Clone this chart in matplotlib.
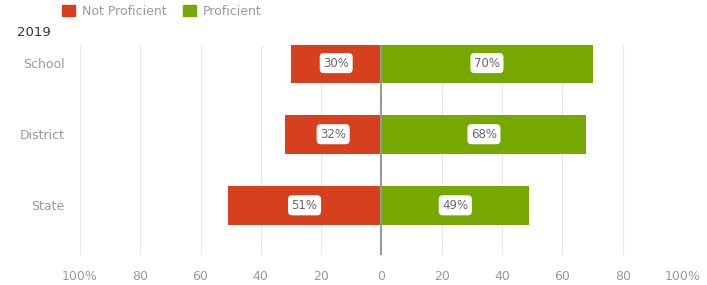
import matplotlib.pyplot as plt
from matplotlib.patches import Patch

categories = ['School', 'District', 'State']
not_proficient = [30, 32, 51]
proficient = [70, 68, 49]
ticks = [-100, -80, -60, -40, -20, 0, 20, 40, 60, 80, 100]
tick_labels = ['100%', '80', '60', '40', '20', '0', '20', '40', '60', '80', '100%']

red = '#d6401f'
green = '#76a800'

fig = plt.figure(figsize=(7.07, 2.85), dpi=100)
ax = fig.add_axes([0.113, 0.105, 0.853, 0.737])

y = list(range(len(categories)))
ax.barh(y, [-v for v in not_proficient], height=0.55, color=red, zorder=3)
ax.barh(y, proficient, height=0.55, color=green, zorder=3)

# white rounded boxes with the percentages
box = dict(boxstyle='round,pad=0.3,rounding_size=0.35', fc='white', ec='none')
for i in y:
    ax.text(-not_proficient[i] / 2, i, '{}%'.format(not_proficient[i]), ha='center', va='center',
            fontsize=8.5, color='#666677', bbox=box, zorder=4)
    ax.text(proficient[i] / 2, i, '{}%'.format(proficient[i]), ha='center', va='center',
            fontsize=8.5, color='#666677', bbox=box, zorder=4)

ax.set_xlim(-100, 100)
ax.set_ylim(2.70, -0.254)
ax.set_xticks(ticks)
ax.set_xticklabels(tick_labels)
ax.set_yticks(y)
ax.set_yticklabels(categories)
for t in ticks:
    if t == 0:
        ax.axvline(t, color='#999999', lw=1.5, zorder=5)
    else:
        ax.axvline(t, color='#e8e8e8', lw=0.8, zorder=1)
for s in ax.spines.values():
    s.set_visible(False)
ax.tick_params(axis='both', length=0, colors='#999999', labelsize=9)
ax.tick_params(axis='x', pad=11)
ax.tick_params(axis='y', pad=11)

fig.text(0.024, 0.885, '2019', fontsize=9.5, color='#333333', va='center')
handles = [Patch(color=red, label='Not Proficient'), Patch(color=green, label='Proficient')]
fig.legend(handles=handles, loc='center left', bbox_to_anchor=(0.088, 0.96), ncol=2, frameon=False,
           handlelength=1.0, handleheight=1.0, handletextpad=0.6, columnspacing=1.3,
           fontsize=9, labelcolor='#999999', borderaxespad=0, borderpad=0)

fig.savefig('out.png', dpi=100)
